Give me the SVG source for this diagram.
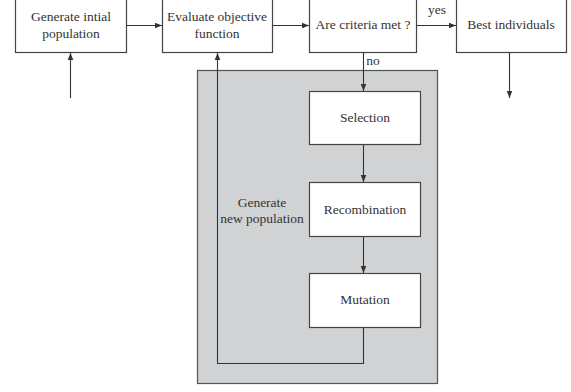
<svg xmlns="http://www.w3.org/2000/svg" width="571" height="392" viewBox="0 0 571 392">
<style>
.box{fill:#fff;stroke:#444;stroke-width:1.2}
.t{font-family:'Liberation Serif','Times New Roman',serif;font-size:13.5px;fill:#333;text-anchor:middle}
.c{fill:none;stroke:#333;stroke-width:1.1}
</style>
<defs>
<marker id="ah" viewBox="0 0 10 10" refX="10" refY="5" markerWidth="7" markerHeight="7" markerUnits="userSpaceOnUse" orient="auto">
<path d="M0,1 L10,5 L0,9 z" fill="#333"/>
</marker>
</defs>
<rect width="571" height="392" fill="#fff"/>
<g id="group-new-pop">
<rect x="197.5" y="70.5" width="240" height="313" fill="#d1d2d4" stroke="#555" stroke-width="1.2"/>
<text class="t" x="262" y="207">Generate</text>
<text class="t" x="262" y="223">new population</text>
</g>
<g id="init">
<rect class="box" x="15.5" y="-5" width="111" height="57.5"/>
<text class="t" x="71" y="21">Generate intial</text>
<text class="t" x="71" y="38">population</text>
</g>
<g id="eval">
<rect class="box" x="162.5" y="-5" width="110" height="57.5"/>
<text class="t" x="217" y="21">Evaluate objective</text>
<text class="t" x="217" y="38">function</text>
</g>
<g id="criteria">
<rect class="box" x="309.5" y="-5" width="107" height="57.5"/>
<text class="t" x="363" y="29">Are criteria met ?</text>
</g>
<g id="best">
<rect class="box" x="456.5" y="-5" width="110" height="57.5"/>
<text class="t" x="511" y="29">Best individuals</text>
</g>
<g id="selection">
<rect class="box" x="309.5" y="91.5" width="111" height="53"/>
<text class="t" x="365" y="122">Selection</text>
</g>
<g id="recombination">
<rect class="box" x="309.5" y="182.5" width="111" height="54"/>
<text class="t" x="365" y="214">Recombination</text>
</g>
<g id="mutation">
<rect class="box" x="309.5" y="273.5" width="111" height="54"/>
<text class="t" x="365" y="304">Mutation</text>
</g>
<g id="connectors">
<line class="c" x1="126.5" y1="25.5" x2="162" y2="25.5" marker-end="url(#ah)"/>
<line class="c" x1="272.5" y1="25.5" x2="309" y2="25.5" marker-end="url(#ah)"/>
<line class="c" x1="416.5" y1="25.5" x2="456" y2="25.5" marker-end="url(#ah)"/>
<line class="c" x1="70.5" y1="98" x2="70.5" y2="53" marker-end="url(#ah)"/>
<line class="c" x1="509.5" y1="53" x2="509.5" y2="98" marker-end="url(#ah)"/>
<line class="c" x1="363.5" y1="53" x2="363.5" y2="91" marker-end="url(#ah)"/>
<line class="c" x1="363.5" y1="145" x2="363.5" y2="182" marker-end="url(#ah)"/>
<line class="c" x1="363.5" y1="237" x2="363.5" y2="273" marker-end="url(#ah)"/>
<polyline class="c" points="363.5,328 363.5,363.5 217.5,363.5 217.5,53" marker-end="url(#ah)"/>
<text class="t" x="437" y="14">yes</text>
<text class="t" x="373" y="65">no</text>
</g>
</svg>
